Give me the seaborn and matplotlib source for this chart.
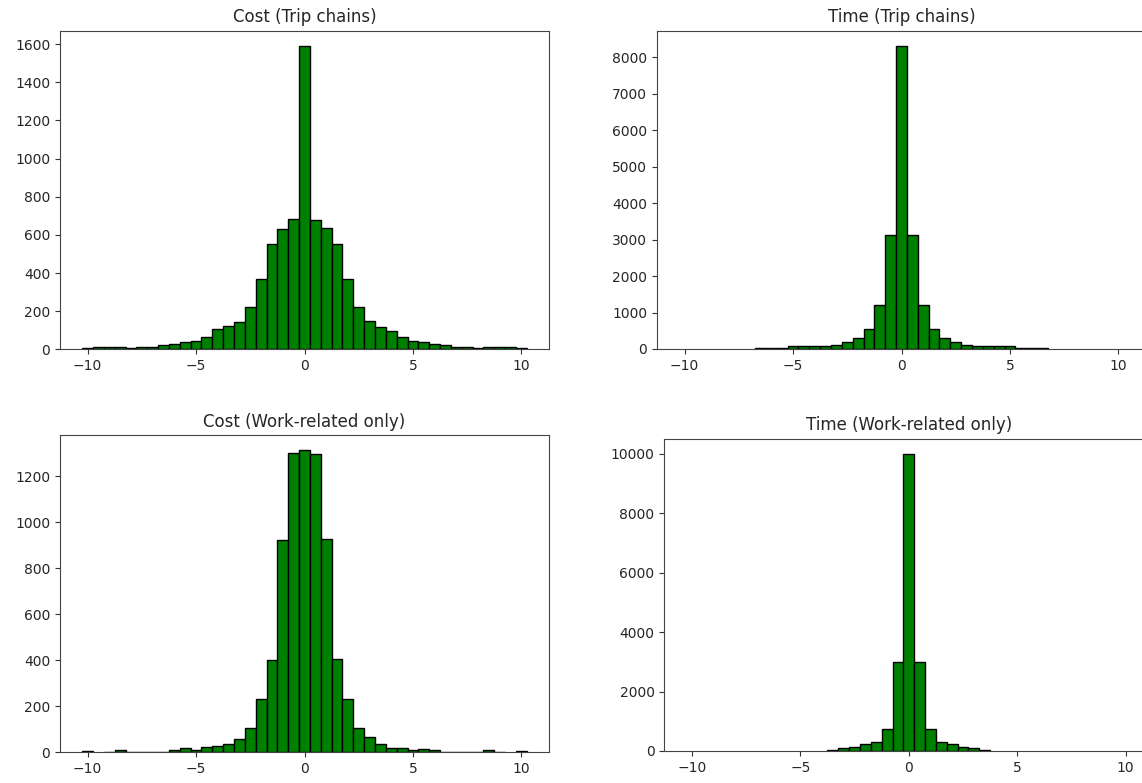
import matplotlib
matplotlib.use("Agg")
import matplotlib.pyplot as plt
import seaborn as sns
import numpy as np

# Bin centres (bin width 0.5)
bin_centers = [-10.0, -9.5, -9.0, -8.5, -8.0, -7.5, -7.0, -6.5, -6.0, -5.5,
               -5.0, -4.5, -4.0, -3.5, -3.0, -2.5, -2.0, -1.5, -1.0, -0.5,
               0.0, 0.5, 1.0, 1.5, 2.0, 2.5, 3.0, 3.5, 4.0, 4.5,
               5.0, 5.5, 6.0, 6.5, 7.0, 7.5, 8.0, 8.5, 9.0, 9.5, 10.0]

cost_trip_chains = [7, 14, 12, 12, 6, 12, 12, 21, 29, 36,
                    45, 67, 105, 120, 144, 221, 366, 552, 631, 684,
                    1592, 677, 636, 552, 367, 221, 150, 119, 97, 66,
                    45, 36, 28, 21, 12, 12, 5, 12, 12, 12, 7]

time_trip_chains = [0, 0, 0, 0, 0, 0, 0, 25, 25, 25,
                    70, 70, 70, 72, 115, 193, 312, 550, 1200, 3125,
                    8310, 3125, 1200, 550, 312, 193, 110, 70, 70, 70,
                    70, 25, 25, 25, 0, 0, 0, 0, 0, 0, 0]

cost_work_only = [4, 0, 3, 10, 2, 2, 2, 2, 10, 17,
                  10, 22, 28, 34, 60, 105, 233, 401, 922, 1303,
                  1314, 1297, 928, 406, 233, 105, 67, 34, 20, 20,
                  10, 16, 10, 3, 3, 3, 3, 10, 3, 0, 4]

time_work_only = [0, 0, 0, 0, 0, 0, 0, 0, 0, 0,
                  0, 0, 0, 38, 85, 140, 235, 295, 725, 2997,
                  10000, 2997, 725, 295, 235, 140, 85, 38, 0, 0,
                  0, 0, 0, 0, 0, 0, 0, 0, 0, 0, 0]

titles = ["Cost (Trip chains)", "Time (Trip chains)",
          "Cost (Work-related only)", "Time (Work-related only)"]
series = [cost_trip_chains, time_trip_chains, cost_work_only, time_work_only]

W, H = 1142, 783
DPI = 100
fig = plt.figure(figsize=(W / DPI, H / DPI), dpi=DPI)

# axes boxes in pixels: left, top, right, bottom
boxes = [(60, 30.5, 549, 349.3),
         (657, 30.7, 1146, 349.0),
         (60, 435.0, 549, 752.3),
         (664.3, 438.7, 1153.3, 751.0)]

for (l, t, r, b), title, vals in zip(boxes, titles, series):
    ax = fig.add_axes([l / W, 1 - b / H, (r - l) / W, (b - t) / H])
    sns.histplot(x=bin_centers, weights=vals, binwidth=0.5,
                 binrange=(-10.25, 10.25), color="green", edgecolor="black",
                 linewidth=1, alpha=1, ax=ax)
    # empty bins are not drawn in the reference
    for p in ax.patches:
        if p.get_height() == 0:
            p.set_visible(False)
    ax.set_title(title, fontsize=12, color="#262626")
    ax.set_ylabel("")
    ax.set_xlabel("")
    ax.set_xlim(-11.275, 11.275)
    ax.tick_params(labelsize=10, labelcolor="#262626", color="#333333")
    for sp in ax.spines.values():
        sp.set_color("#444444")

fig.savefig("out.png", dpi=DPI)
